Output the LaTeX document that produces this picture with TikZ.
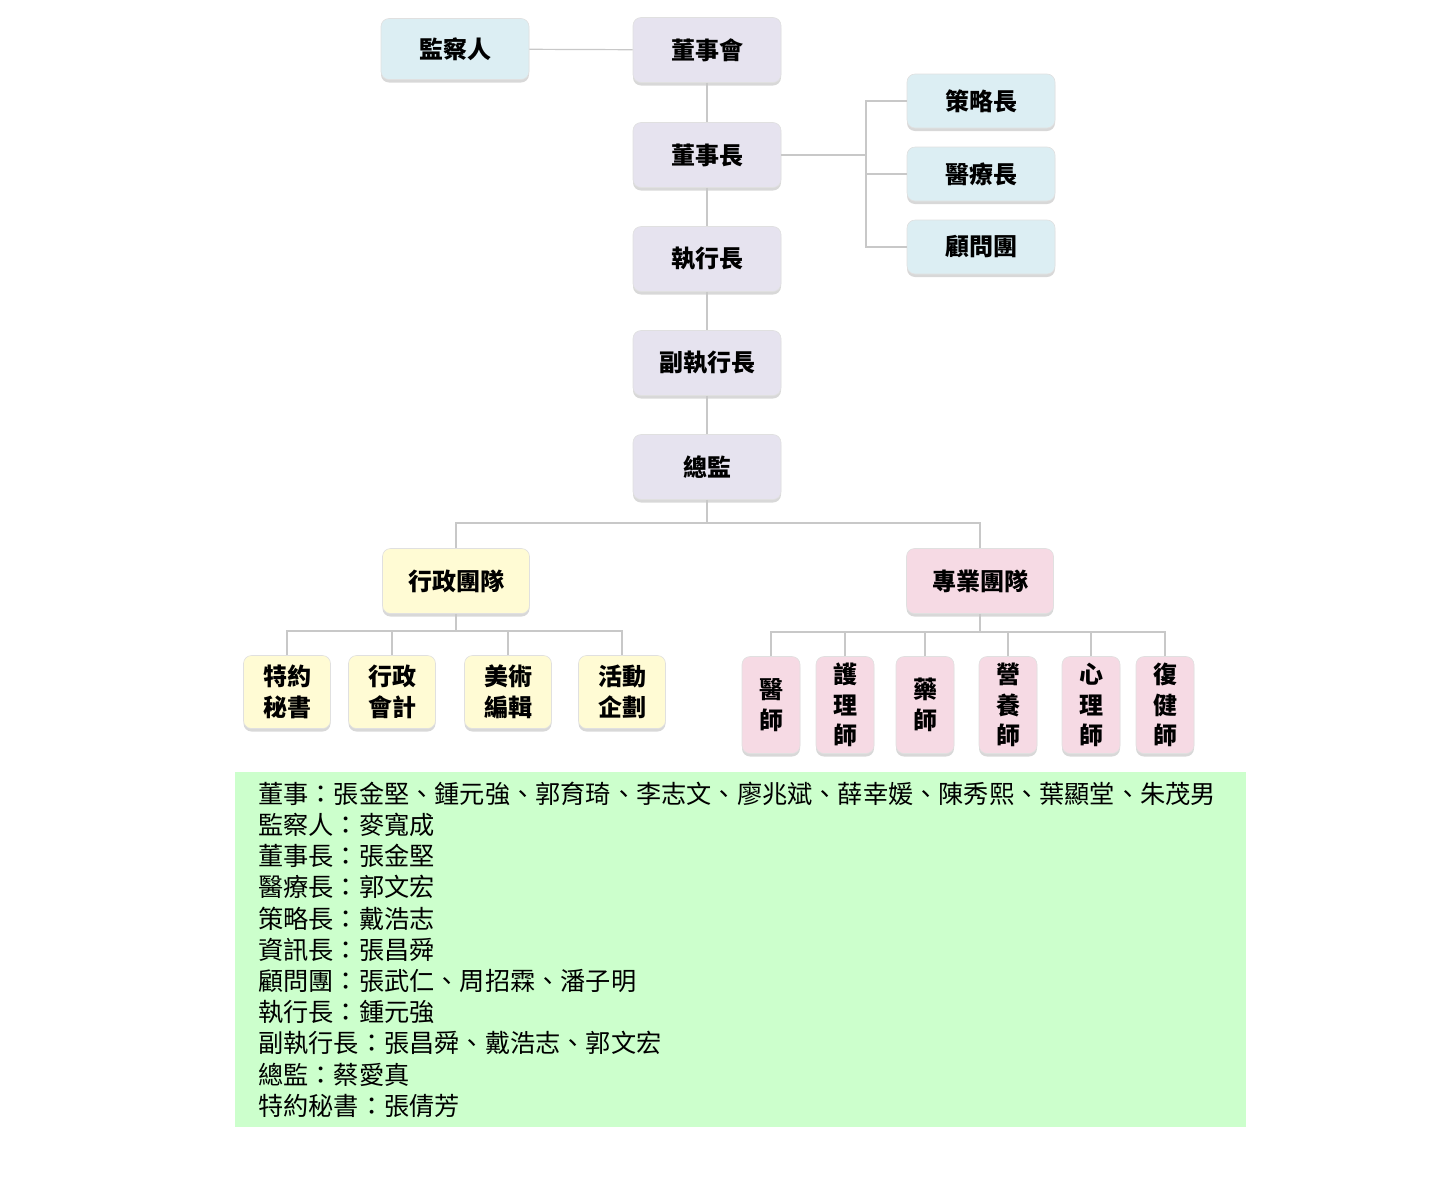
\documentclass[tikz,border=0pt]{standalone}
\usepackage{fontspec}
\newfontfamily\cjk{Noto Sans CJK TC}
\usetikzlibrary{shadows}
\definecolor{bossfill}{HTML}{E6E3EF}
\definecolor{sidefill}{HTML}{DCEEF3}
\definecolor{admfill}{HTML}{FFFBD4}
\definecolor{profill}{HTML}{F6DAE4}
\definecolor{rosterbg}{HTML}{CCFFCC}
\definecolor{linegray}{HTML}{C8C8C8}
\begin{document}
\begin{tikzpicture}[x=1pt, y=-1pt,
    box/.style={rounded corners=8pt, draw=black!12, line width=0.6pt, inner sep=0pt,
        align=center, font=\cjk\bfseries\fontsize{24}{30.5}\selectfont,
        drop shadow={shadow xshift=0pt, shadow yshift=-3pt, fill=black!30}},
    bossbox/.style={box, fill=bossfill, minimum width=148pt, minimum height=65pt},
    sidebox/.style={box, fill=sidefill, minimum width=148pt, minimum height=54pt},
    teambox/.style={box, minimum width=147pt, minimum height=65pt},
    admbox/.style={box, fill=admfill, minimum width=87pt, minimum height=73pt},
    probox/.style={box, fill=profill, minimum width=58pt, minimum height=97pt},
    link/.style={draw=linegray, line width=1.2pt}]
    \useasboundingbox (0,0) rectangle (1452,1200);
    %Ban giám đốc
    \node[sidebox, minimum height=61pt] (jcr) at (455,49) {監察人};
    \node[bossbox] (dsh) at (707,50) {董事會};
    \node[bossbox] (dsz) at (707,155) {董事長};
    \node[bossbox] (zxz) at (707,259) {執行長};
    \node[bossbox] (fzx) at (707,363) {副執行長};
    \node[bossbox] (zj) at (707,467) {總監};
    %Bên phải
    \node[sidebox] (clz) at (981,101) {策略長};
    \node[sidebox] (ylz) at (981,174) {醫療長};
    \node[sidebox] (gwt) at (981,247) {顧問團};
    %Hai đội
    \node[teambox, fill=admfill] (xz) at (456,581) {行政團隊};
    \node[teambox, fill=profill] (zy) at (980,581) {專業團隊};
    %Đội hành chính
    \node[admbox] (tymsh) at (287,692) {特約\\秘書};
    \node[admbox] (xzkj) at (392,692) {行政\\會計};
    \node[admbox] (mshbj) at (508,692) {美術\\編輯};
    \node[admbox] (hdqh) at (622,692) {活動\\企劃};
    %Đội chuyên môn
    \node[probox] (ys) at (771,705) {醫\\師};
    \node[probox] (hls) at (845,705) {護\\理\\師};
    \node[probox] (yaos) at (925,705) {藥\\師};
    \node[probox] (yys) at (1008,705) {營\\養\\師};
    \node[probox] (xls) at (1091,705) {心\\理\\師};
    \node[probox] (fjs) at (1165,705) {復\\健\\師};
    %Đường nối
    \coordinate (gwbus) at (866,155);
    \coordinate (teambus) at (707,523);
    \coordinate (xzbus) at (456,631);
    \coordinate (zybus) at (980,632);
    \draw[link] (jcr) -- (dsh);
    \draw[link] (dsh) -- (dsz) (dsz) -- (zxz) (zxz) -- (fzx) (fzx) -- (zj);
    \draw[link] (dsz.east) -- (gwbus);
    \draw[link] (clz.west) -| (gwbus);
    \draw[link] (gwt.west) -| (gwbus);
    \draw[link] (ylz.west) -- (ylz.west -| gwbus);
    \draw[link] (zj) -- (teambus);
    \draw[link] (xz) |- (teambus);
    \draw[link] (zy) |- (teambus);
    \draw[link] (xz) -- (xzbus);
    \foreach \c in {tymsh, xzkj, mshbj, hdqh}
        \draw[link] (\c) |- (xzbus);
    \draw[link] (zy) -- (zybus);
    \foreach \c in {ys, hls, yaos, yys, xls, fjs}
        \draw[link] (\c) |- (zybus);
    %Danh sách
    \node[fill=rosterbg, minimum width=1011pt, minimum height=355pt, inner sep=0pt,
        anchor=north west] (roster) at (235,772) {};
    \node[anchor=west, align=left, inner sep=0pt,
        font=\cjk\fontsize{25.2}{31.2}\selectfont] (names) at ([xshift=23pt]roster.west)
        {董事：張金堅、鍾元強、郭育琦、李志文、廖兆斌、薛幸媛、陳秀熙、葉顯堂、朱茂男\\
        監察人：麥寬成\\
        董事長：張金堅\\
        醫療長：郭文宏\\
        策略長：戴浩志\\
        資訊長：張昌舜\\
        顧問團：張武仁、周招霖、潘子明\\
        執行長：鍾元強\\
        副執行長：張昌舜、戴浩志、郭文宏\\
        總監：蔡愛真\\
        特約秘書：張倩芳};
\end{tikzpicture}
\end{document}
